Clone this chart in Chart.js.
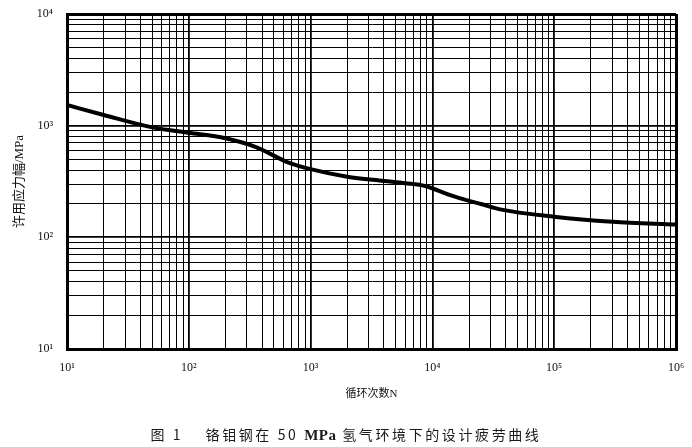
<!DOCTYPE html>
<html>
<head>
<meta charset="utf-8">
<script src="https://cdn.jsdelivr.net/npm/chart.js@4.4.1/dist/chart.umd.min.js"></script>
<style>
  html, body { margin: 0; padding: 0; background: #ffffff; }
  #wrap { position: relative; width: 692px; height: 447px; overflow: hidden; }
  #c { position: absolute; left: 0; top: 0; }
  #caption { position: absolute; left: 0; top: 424px; width: 692px; text-align: center;
    font-family: "Noto Sans CJK SC", sans-serif; font-size: 14px; color: #1a1a1a; letter-spacing: 2.6px; white-space: pre; }
  #caption b { font-family: "Liberation Serif", "DejaVu Serif", serif; font-size: 15px; letter-spacing: 0.5px; }
</style>
</head>
<body>
<div id="wrap">
  <canvas id="c" width="692" height="447"></canvas>
  <div id="caption">图 1　 铬钼钢在 50 <b>MPa</b> 氢气环境下的设计疲劳曲线</div>
</div>
<script>
// ---- data ----
const cycles = [10, 20, 50, 100, 200, 360, 650, 1000, 2000, 4000, 6000, 8700, 14000, 20000, 25000, 36000, 100000, 300000, 1000000];
const stress = [1530, 1247, 966, 865, 771, 640, 470, 408, 349, 320, 305, 288, 239, 212, 199, 178, 153, 138, 130];

const xDecades = [1, 2, 3, 4, 5, 6];          // exponents of 10 on the x axis
const yDecades = [1, 2, 3, 4];                // exponents of 10 on the y axis
const minorSteps = [1, 2, 3, 4, 5, 6, 7, 8, 9];
const supers = {'0':'⁰','1':'¹','2':'²','3':'³','4':'⁴','5':'⁵','6':'⁶','7':'⁷','8':'⁸','9':'⁹'};

const xTitle = '循环次数N';
const yTitle = '许用应力幅/MPa';

function buildTicks(decades) {
  const t = [];
  for (let i = 0; i < decades.length; i++) {
    const e = decades[i];
    if (i === decades.length - 1) { t.push({value: Math.pow(10, e)}); break; }
    for (const m of minorSteps) t.push({value: m * Math.pow(10, e)});
  }
  return t;
}
function isDecade(v) {
  const l = Math.log10(v);
  return Math.abs(l - Math.round(l)) < 1e-9;
}
function decLabel(v) {
  if (!isDecade(v)) return '';
  const e = Math.round(Math.log10(v));
  return '10' + String(e).split('').map(d => supers[d]).join('');
}

const pts = cycles.map((n, i) => ({x: n, y: stress[i]}));
const xMin = Math.pow(10, xDecades[0]), xMax = Math.pow(10, xDecades[xDecades.length - 1]);
const yMin = Math.pow(10, yDecades[0]), yMax = Math.pow(10, yDecades[yDecades.length - 1]);

function gridWidth(ctx, min, max) {
  const v = ctx.tick ? ctx.tick.value : null;
  if (v == null) return 1;
  if (Math.abs(v - min) / min < 1e-9 || Math.abs(v - max) / max < 1e-9) return 3;
  return isDecade(v) ? 1.8 : 1;
}

new Chart(document.getElementById('c'), {
  type: 'line',
  data: {
    datasets: [{
      data: pts,
      borderColor: '#000000',
      borderWidth: 4,
      pointRadius: 0,
      fill: false,
      cubicInterpolationMode: 'monotone'
    }]
  },
  options: {
    responsive: false,
    animation: false,
    devicePixelRatio: 1,
    layout: { padding: { left: 4, right: 16, top: 14, bottom: 40 } },
    plugins: { legend: { display: false }, tooltip: { enabled: false } },
    scales: {
      x: {
        type: 'logarithmic',
        min: xMin, max: xMax,
        afterBuildTicks: s => { s.ticks = buildTicks(xDecades); },
        afterFit: s => { s.height = 58; },
        grid: { color: '#000000', lineWidth: c => gridWidth(c, xMin, xMax),
                drawTicks: true, tickLength: 10, tickColor: 'rgba(0,0,0,0)' },
        border: { display: true, color: '#000000', width: 3 },
        ticks: {
          autoSkip: false, maxRotation: 0, padding: 2, color: '#111111',
          font: { family: '"Liberation Serif", "DejaVu Serif", serif', size: 12 },
          callback: v => decLabel(v)
        },
        title: {
          display: true, text: xTitle, color: '#111111',
          font: { family: '"Liberation Serif", "Noto Sans CJK SC", serif', size: 11 },
          padding: { top: 0, bottom: 6 }
        }
      },
      y: {
        type: 'logarithmic',
        min: yMin, max: yMax,
        afterBuildTicks: s => { s.ticks = buildTicks(yDecades); },
        afterFit: s => { s.width = 63; },
        grid: { color: '#000000', lineWidth: c => gridWidth(c, yMin, yMax),
                drawTicks: true, tickLength: 12, tickColor: 'rgba(0,0,0,0)' },
        border: { display: true, color: '#000000', width: 3 },
        ticks: {
          autoSkip: false, padding: 2, color: '#111111',
          font: { family: '"Liberation Serif", "DejaVu Serif", serif', size: 12 },
          callback: v => decLabel(v)
        },
        title: {
          display: true, text: yTitle, color: '#111111',
          font: { family: '"Liberation Serif", "Noto Sans CJK SC", serif', size: 13 },
          padding: { top: 8, bottom: 2 }
        }
      }
    }
  }
});
</script>
</body>
</html>
